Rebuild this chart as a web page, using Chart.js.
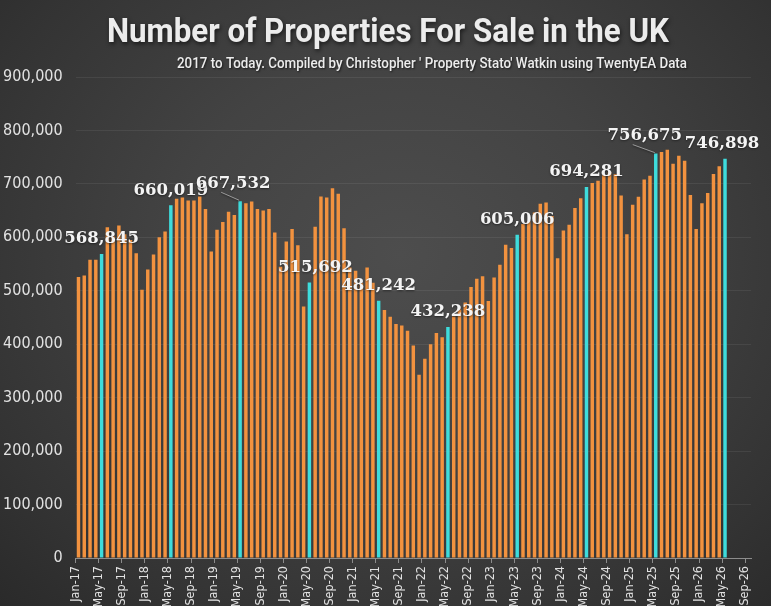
<!DOCTYPE html>
<html>
<head>
<meta charset="utf-8">
<title>Number of Properties For Sale in the UK</title>
<script src="https://cdn.jsdelivr.net/npm/chart.js@4.4.1/dist/chart.umd.min.js"></script>
<style>
    html, body { margin: 0; padding: 0; }
    body {
        width: 771px;
        height: 606px;
        overflow: hidden;
        background: radial-gradient(ellipse at 52% 42%, #4d4d4d 0%, #434343 40%, #333333 80%, #2a2a2a 100%);
    }
    #wrap { position: relative; width: 771px; height: 606px; }
</style>
</head>
<body>
<div id="wrap"><canvas id="salesChart" width="771" height="606"></canvas></div>
<script>
// Month names and year suffixes used to build the category labels (Jan-17 .. Sep-26)
const monthNames = ['Jan', 'Feb', 'Mar', 'Apr', 'May', 'Jun', 'Jul', 'Aug', 'Sep', 'Oct', 'Nov', 'Dec'];
const yearSuffixes = ['17', '18', '19', '20', '21', '22', '23', '24', '25', '26'];
const lastLabel = 'Sep-26';

// Properties for sale, one value per month from Jan-17 to May-26
const listings = [
    525700, 528700, 558000, 558000, 568845, 619000, 601700, 622000, 606000, 595000, 570000, 502000,
    540000, 568000, 600000, 611000, 660019, 672000, 674700, 669000, 669000, 676600, 653000, 573600,
    614000, 628600, 648000, 642000, 667532, 664000, 667000, 653000, 650000, 653000, 609000, 545000,
    592000, 615600, 585000, 470600, 515692, 620000, 676600, 674700, 692000, 681700, 617000, 543600,
    537500, 515000, 543600, 515000, 481242, 463800, 451300, 438000, 435000, 425000, 397600, 342700,
    372700, 400000, 420800, 413000, 432238, 452000, 465000, 478000, 507000, 522500, 527000, 481000,
    525000, 548700, 586000, 580000, 605006, 625000, 630000, 646600, 663000, 665000, 640000, 561000,
    613000, 623600, 655000, 673000, 694281, 701700, 706000, 716000, 722000, 718000, 678500, 606000,
    661000, 676000, 708000, 715000, 756675, 759700, 764000, 737800, 752800, 743500, 679000, 615600,
    664000, 683000, 718500, 733000, 746898
];

// y axis ticks
const yMax = 900000;
const yStep = 100000;

// build the month labels
const monthLabels = [];
yearSuffixes.forEach(yr => {
    monthNames.forEach(m => {
        if (monthLabels[monthLabels.length - 1] !== lastLabel) {
            monthLabels.push(m + '-' + yr);
        }
    });
});

const ORANGE = '#F2923F';
const CYAN = '#3EDCDC';
const TEXT = '#e2e2e2';
const AXIS = '#8c8c8c';

// use a condensed face if the machine has one, otherwise Roboto
function hasFont(name) {
    const c = document.createElement('canvas').getContext('2d');
    c.font = '40px monospace';
    const a = c.measureText('900,000 May-17 Wm').width;
    c.font = "40px '" + name + "', monospace";
    return c.measureText('900,000 May-17 Wm').width !== a;
}
const condensed = hasFont('DejaVu Sans Condensed');
const narrow = condensed ? "'DejaVu Sans Condensed', 'Roboto', sans-serif" : "'Roboto', sans-serif";

// where the May labels sit relative to their bar (dx, lift, leader line)
const labelTweaks = {
    'May-19': { dx: -7, lift: 18, leader: true },
    'May-20': { dx: 6, lift: 15 },
    'May-25': { dx: -11, lift: 18, leader: true },
    'May-26': { dx: -3, lift: 15 }
};

// draw text squeezed to a given width, like the condensed face in the original
function fitText(c, text, left, width, baseline) {
    const w = c.measureText(text).width;
    c.save();
    c.translate(left, baseline);
    c.scale(width / w, 1);
    c.fillText(text, 0, 0);
    c.restore();
}

// Title + subtitle drawn straight onto the canvas
const titlePlugin = {
    id: 'titleText',
    beforeDraw(chart) {
        const c = chart.ctx;
        c.save();
        c.textAlign = 'left';
        c.textBaseline = 'alphabetic';
        c.shadowColor = 'rgba(0,0,0,0.6)';
        c.shadowBlur = 4;
        c.shadowOffsetX = 1;
        c.shadowOffsetY = 2;
        c.fillStyle = '#ececec';
        c.font = "bold 34px 'Roboto', sans-serif";
        fitText(c, 'Number of Properties For Sale in the UK', 107, 562, 42);
        c.shadowBlur = 2;
        c.shadowOffsetY = 1;
        c.font = "500 14px 'Roboto', sans-serif";
        fitText(c, "2017 to Today. Compiled by Christopher ' Property Stato' Watkin using TwentyEA Data", 177, 510, 68);
        c.restore();
    }
};

// Value labels above the highlighted (May) bars
const mayLabelPlugin = {
    id: 'mayLabels',
    afterDatasetsDraw(chart) {
        const c = chart.ctx;
        const meta = chart.getDatasetMeta(0);
        c.save();
        c.font = "bold 16.5px 'DejaVu Serif', serif";
        c.textAlign = 'center';
        c.textBaseline = 'middle';
        listings.forEach((v, i) => {
            const lbl = monthLabels[i];
            if (!lbl.startsWith('May')) return;
            const bar = meta.data[i];
            const tw = labelTweaks[lbl] || { dx: 0, lift: 15 };
            const tx = bar.x + tw.dx;
            const ty = bar.y - tw.lift;
            if (tw.leader) {
                c.strokeStyle = '#9a9a9a';
                c.lineWidth = 1;
                c.beginPath();
                c.moveTo(tx - 12, ty + 9);
                c.lineTo(bar.x - 1, bar.y - 1);
                c.stroke();
            }
            c.shadowColor = 'rgba(0,0,0,0.5)';
            c.shadowBlur = 2;
            c.shadowOffsetY = 1;
            c.fillStyle = '#f4f4f4';
            c.fillText(v.toLocaleString('en-GB'), tx, ty);
        });
        c.restore();
    }
};

const ctx = document.getElementById('salesChart').getContext('2d');

new Chart(ctx, {
    type: 'bar',
    data: {
        labels: monthLabels,
        datasets: [{
            data: listings,
            backgroundColor: c => (monthLabels[c.dataIndex] || '').startsWith('May') ? CYAN : ORANGE,
            borderWidth: 0,
            barPercentage: 0.6,
            categoryPercentage: 1.0
        }]
    },
    options: {
        responsive: false,
        animation: false,
        layout: {
            padding: { top: 77, right: 20, left: 0, bottom: 0 }
        },
        plugins: {
            legend: { display: false },
            tooltip: { enabled: false },
            title: { display: false }
        },
        scales: {
            x: {
                offset: true,
                grid: {
                    offset: true,
                    drawOnChartArea: false,
                    drawTicks: true,
                    tickLength: 5,
                    tickColor: c => (c.index % 4 === 0 ? AXIS : 'rgba(0,0,0,0)')
                },
                border: { display: true, color: AXIS, width: 1 },
                ticks: {
                    autoSkip: false,
                    minRotation: 90,
                    maxRotation: 90,
                    padding: 3,
                    labelOffset: -2.9,
                    color: TEXT,
                    font: { size: condensed ? 12.5 : 11.5, family: narrow },
                    callback: function(value, index) {
                        return index % 4 === 0 ? this.getLabelForValue(value) : '';
                    }
                },
                afterFit: scale => { scale.height = 48; }
            },
            y: {
                min: 0,
                max: yMax,
                grid: {
                    color: 'rgba(255,255,255,0.07)',
                    drawTicks: false
                },
                border: { display: false },
                ticks: {
                    stepSize: yStep,
                    padding: 13,
                    color: TEXT,
                    font: { size: condensed ? 16 : 15, family: narrow },
                    callback: v => v.toLocaleString('en-GB')
                },
                afterFit: scale => { scale.width = 75.6; }
            }
        }
    },
    plugins: [titlePlugin, mayLabelPlugin]
});
</script>
</body>
</html>
